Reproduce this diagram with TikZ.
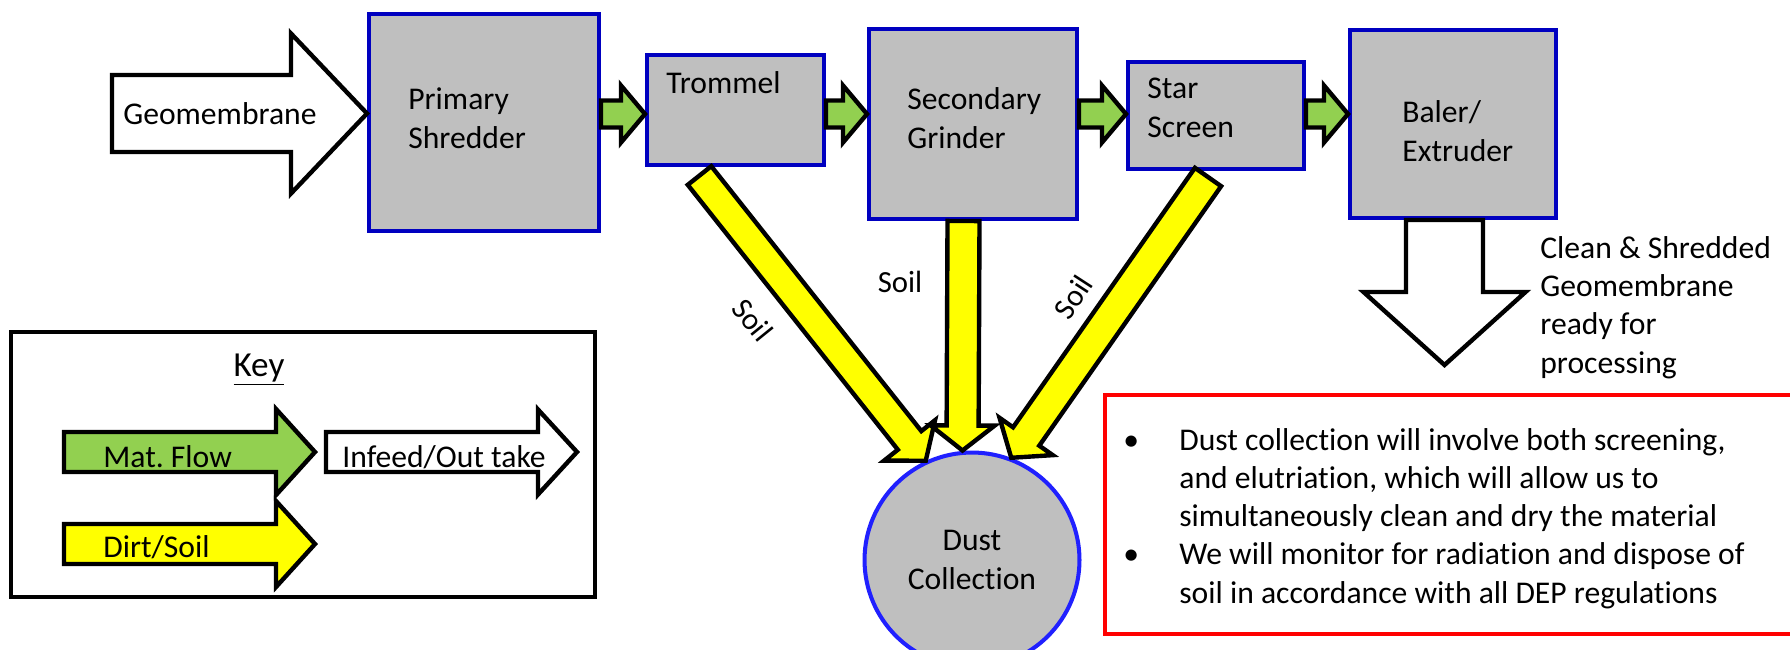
\documentclass[tikz,border=0pt]{standalone}
\usepackage{fontspec}
\setmainfont{Carlito}[Ligatures=NoCommon]
\usepackage{tikz}
\usetikzlibrary{calc}
\usepackage{xcolor}
\definecolor{boxgray}{RGB}{191,191,191}
\definecolor{boxblue}{RGB}{0,0,192}
\definecolor{ringblue}{RGB}{32,32,255}
\definecolor{flowgreen}{RGB}{146,208,80}
\definecolor{soilyellow}{RGB}{255,255,0}

% block arrow: style, from, to, shaft half width, head half width, head length
\newcommand{\blockarrow}[6]{%
  \coordinate (hb) at ($#3!#6!#2$);
  \draw[#1] ($#2!#4!90:#3$) -- ($(hb)!#4!-90:#2$) -- ($(hb)!#5!-90:#2$) -- #3
    -- ($(hb)!#5!90:#2$) -- ($(hb)!#4!90:#2$) -- ($#2!#4!-90:#3$) -- cycle;
}

\begin{document}
\begin{tikzpicture}[x=0.02cm,y=-0.02cm]
\tikzset{
    box/.style={%
        draw=boxblue, line width=2.3pt,
        fill=boxgray,
        rectangle,
        anchor=north west
        },
    lbl/.style={%
        font=\fontsize{18}{21.7}\selectfont,
        align=left, anchor=base west, inner sep=0pt
        },
    flow/.style={draw=black, line width=2.5pt, fill=flowgreen},
    dirt/.style={draw=black, line width=2.5pt, fill=soilyellow},
    feed/.style={draw=black, line width=2.5pt, fill=white},
    soil/.style={font=\fontsize{17.5}{21}\selectfont, inner sep=0pt},
}
\useasboundingbox (0,0) rectangle (1790,649);
%%%MACHINES
\node[box, minimum width=4.6cm, minimum height=4.34cm] (shred) at (367,12) {};
\node[box, minimum width=3.54cm, minimum height=2.2cm] (tromm) at (645,53) {};
\node[box, minimum width=4.16cm, minimum height=3.8cm] (grind) at (867,27) {};
\node[box, minimum width=3.52cm, minimum height=2.14cm] (star) at (1126,60) {};
\node[box, minimum width=4.12cm, minimum height=3.76cm] (baler) at (1348,28) {};
\node[circle, draw=ringblue, line width=2.3pt, fill=boxgray, minimum size=4.3cm,
      inner sep=0pt, align=center, font=\fontsize{18}{21.7}\selectfont] (dust) at (972,560) {Dust\\Collection};
% base of a node with several lines is its last line
\node[lbl] (shredtxt) at (408,148) {Primary\\Shredder};
\node[lbl] (tromtxt) at (666,93) {Trommel};
\node[lbl] (grindtxt) at (907,148) {Secondary\\Grinder};
\node[lbl] (startxt) at (1147,137) {Star\\Screen};
\node[lbl] (balertxt) at (1402,161) {Baler/\\Extruder};
%%%INFEED AND OUT TAKE
\coordinate (gin) at (112,113.5);
\coordinate (gout) at (1444.5,365);
\blockarrow{feed}{(gin)}{(shred.west |- gin)}{0.77cm}{1.6cm}{1.52cm}
\blockarrow{feed}{(baler.south -| gout)}{(gout)}{0.77cm}{1.62cm}{1.46cm}
\node[lbl] (gintxt) at (123,124) {Geomembrane};
\node[lbl] (gouttxt) at (1540,373) {Clean \& Shredded\\Geomembrane\\ready for\\processing};
%%%MATERIAL FLOW
\coordinate (flowline) at (0,114);
\blockarrow{flow}{(shred.east |- flowline)}{(tromm.west |- flowline)}{0.27cm}{0.57cm}{0.48cm}
\blockarrow{flow}{(tromm.east |- flowline)}{(grind.west |- flowline)}{0.27cm}{0.57cm}{0.48cm}
\blockarrow{flow}{(grind.east |- flowline)}{(star.west |- flowline)}{0.27cm}{0.57cm}{0.48cm}
\blockarrow{flow}{(star.east |- flowline)}{(baler.west |- flowline)}{0.27cm}{0.57cm}{0.48cm}
%%%SOIL
\blockarrow{dirt}{([xshift=-0.72cm,yshift=-0.17cm]tromm.south)}{(dust.115)}{0.3cm}{0.65cm}{0.52cm}
\blockarrow{dirt}{([xshift=-0.19cm]grind.south)}{([xshift=-0.19cm]dust.north)}{0.32cm}{0.64cm}{0.5cm}
\blockarrow{dirt}{([xshift=-0.16cm,yshift=-0.12cm]star.south)}{(dust.69)}{0.32cm}{0.65cm}{0.52cm}
\node[soil, rotate=-51] (soil1) at (753,320) {Soil};
\node[soil] (soil2) at (900,282) {Soil};
\node[soil, rotate=57] (soil3) at (1073,297) {Soil};
%%%KEY
\node[draw, line width=2.3pt, minimum width=11.68cm, minimum height=5.3cm] (keybox) at (303,464.5) {};
\node[font=\fontsize{20}{24}\selectfont, anchor=base, inner sep=0pt] (keytxt) at (259,376) {\underline{Key}};
\coordinate (k1) at (64,452);
\coordinate (k2) at (64,544);
\coordinate (k3) at (326,452);
\blockarrow{flow}{(k1)}{($(k1)+(251,0)$)}{0.4cm}{0.86cm}{0.78cm}
\blockarrow{dirt}{(k2)}{($(k2)+(251,0)$)}{0.4cm}{0.86cm}{0.78cm}
\blockarrow{feed}{(k3)}{($(k3)+(251,0)$)}{0.4cm}{0.85cm}{0.78cm}
\node[lbl] (mattxt) at (103,467) {Mat.\ Flow};
\node[lbl] (dirttxt) at (103,557) {Dirt/Soil};
\node[lbl] (feedtxt) at (342,467) {Infeed/Out take};
%%%NOTES
\draw[red, line width=2.3pt] (1790,395) -| (1105,634) -- (1790,634);
\node[lbl] (notes) at (1123,603) {\makebox[1.12cm][l]{\textbullet}Dust collection will involve both screening,\\
\hspace*{1.12cm}and elutriation, which will allow us to\\
\hspace*{1.12cm}simultaneously clean and dry the material\\
\makebox[1.12cm][l]{\textbullet}We will monitor for radiation and dispose of\\
\hspace*{1.12cm}soil in accordance with all DEP regulations};
\end{tikzpicture}
\end{document}
